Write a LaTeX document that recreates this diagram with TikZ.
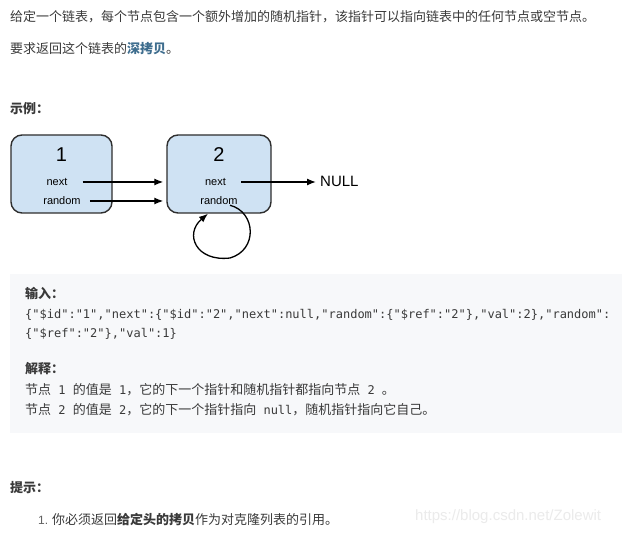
\documentclass[tikz,border=0pt]{standalone}
\usepackage{fontspec}
\setmainfont{Liberation Sans}
\newfontfamily\cjk{Noto Sans CJK SC}
\newfontfamily\codefont{DejaVu Sans Mono}
\usetikzlibrary{arrows.meta}
\definecolor{textgray}{HTML}{3A3A3A}
\definecolor{linkblue}{HTML}{3E6D8E}
\definecolor{boxblue}{HTML}{CFE2F3}
\definecolor{boxline}{HTML}{2E2E2E}
\definecolor{codebg}{HTML}{F7F8FA}
\definecolor{markgray}{HTML}{EBEBEB}
\newcommand\zh[1]{{\cjk\fontsize{13}{16}\selectfont #1}}
\tikzset{
  txt/.style={anchor=west, inner sep=0pt, text=textgray, font=\cjk\fontsize{13}{16}\selectfont},
  head/.style={txt, font=\cjk\bfseries\fontsize{13}{16}\selectfont},
  codetxt/.style={anchor=west, inner sep=0pt, text=textgray, font=\codefont\fontsize{12}{16}\selectfont},
  listbox/.style={draw=boxline, line width=1.4pt, fill=boxblue, rounded corners=11pt, minimum height=78pt},
  field/.style={inner sep=0pt, font=\fontsize{11}{13}\selectfont},
  ptr/.style={line width=1.3pt, -{Latex[length=9pt,width=7pt]}}
}
\begin{document}
\begin{tikzpicture}[x=1pt,y=-1pt]
  \useasboundingbox[fill=white] (0,0) rectangle (622,534);
  %%%%% TEXT %%%%%
  \node[txt] (intro) at (10,17) {给定一个链表，每个节点包含一个额外增加的随机指针，该指针可以指向链表中的任何节点或空节点。};
  \node[txt] (task) at (10,49) {要求返回这个链表的{\bfseries\color{linkblue}深拷贝}。};
  \node[head] (example) at (10,109) {示例：};

  %%%%% LIST %%%%%
  \node[listbox, minimum width=101pt] (n1) at (61.5,174) {};
  \node[listbox, minimum width=104pt] (n2) at (219,174) {};
  \node[field, font=\fontsize{20}{20}\selectfont] (n1val) at (61.5,155) {1};
  \node[field] (n1next) at (57,182) {next};
  \node[field] (n1rand) at (62,201) {random};
  \node[field, font=\fontsize{20}{20}\selectfont] (n2val) at (219,155) {2};
  \node[field] (n2next) at (215.5,182) {next};
  \node[field] (n2rand) at (219,201) {random};
  \node[anchor=west, inner sep=0pt, font=\fontsize{15}{16}\selectfont] (null) at (320,181) {NULL};

  \draw[ptr, shorten <=15pt, shorten >=3pt] (n1next.east) -- (n1next.east -| n2.west);
  \draw[ptr, shorten <=9pt, shorten >=3pt] (n1rand.east) -- (n1rand.east -| n2.west);
  \draw[ptr, shorten <=15pt, shorten >=4pt] (n2next.east) -- (n2next.east -| null.west);
  \draw[ptr] ([xshift=11pt]n2rand.south) .. controls (256,212) and (258,250) .. (230,258)
    .. controls (196,262) and (184,234) .. ([xshift=-11pt]n2.south);

  %%%%% CODE BLOCK %%%%%
  \fill[codebg] (10,274) rectangle (622,433);
  \node[head] (input) at (25,293) {输入：};
  \node[codetxt] (code1) at (25,315) {\{"\$id":"1","next":\{"\$id":"2","next":null,"random":\{"\$ref":"2"\},"val":2\},"random":};
  \node[codetxt] (code2) at (25,334) {\{"\$ref":"2"\},"val":1\}};
  \node[head] (explain) at (25,369) {解释：};
  \node[codetxt] (line1) at (25,390) {\zh{节点} 1 \zh{的值是} 1\zh{，它的下一个指针和随机指针都指向节点} 2 \zh{。}};
  \node[codetxt] (line2) at (25,410) {\zh{节点} 2 \zh{的值是} 2\zh{，它的下一个指针指向} null\zh{，随机指针指向它自己。}};

  %%%%% HINT %%%%%
  \node[head] (hint) at (10,488) {提示：};
  \node[txt] (item) at (38,519) {{\fontfamily{\rmdefault}\fontsize{12}{16}\selectfont\color{textgray!80}1.} 你必须返回{\bfseries 给定头的拷贝}作为对克隆列表的引用。};
  \node[anchor=west, inner sep=0pt, text=markgray, font=\fontsize{15}{16}\selectfont] (mark) at (415,517) {https://blog.csdn.net/Zolewit};
\end{tikzpicture}
\end{document}
